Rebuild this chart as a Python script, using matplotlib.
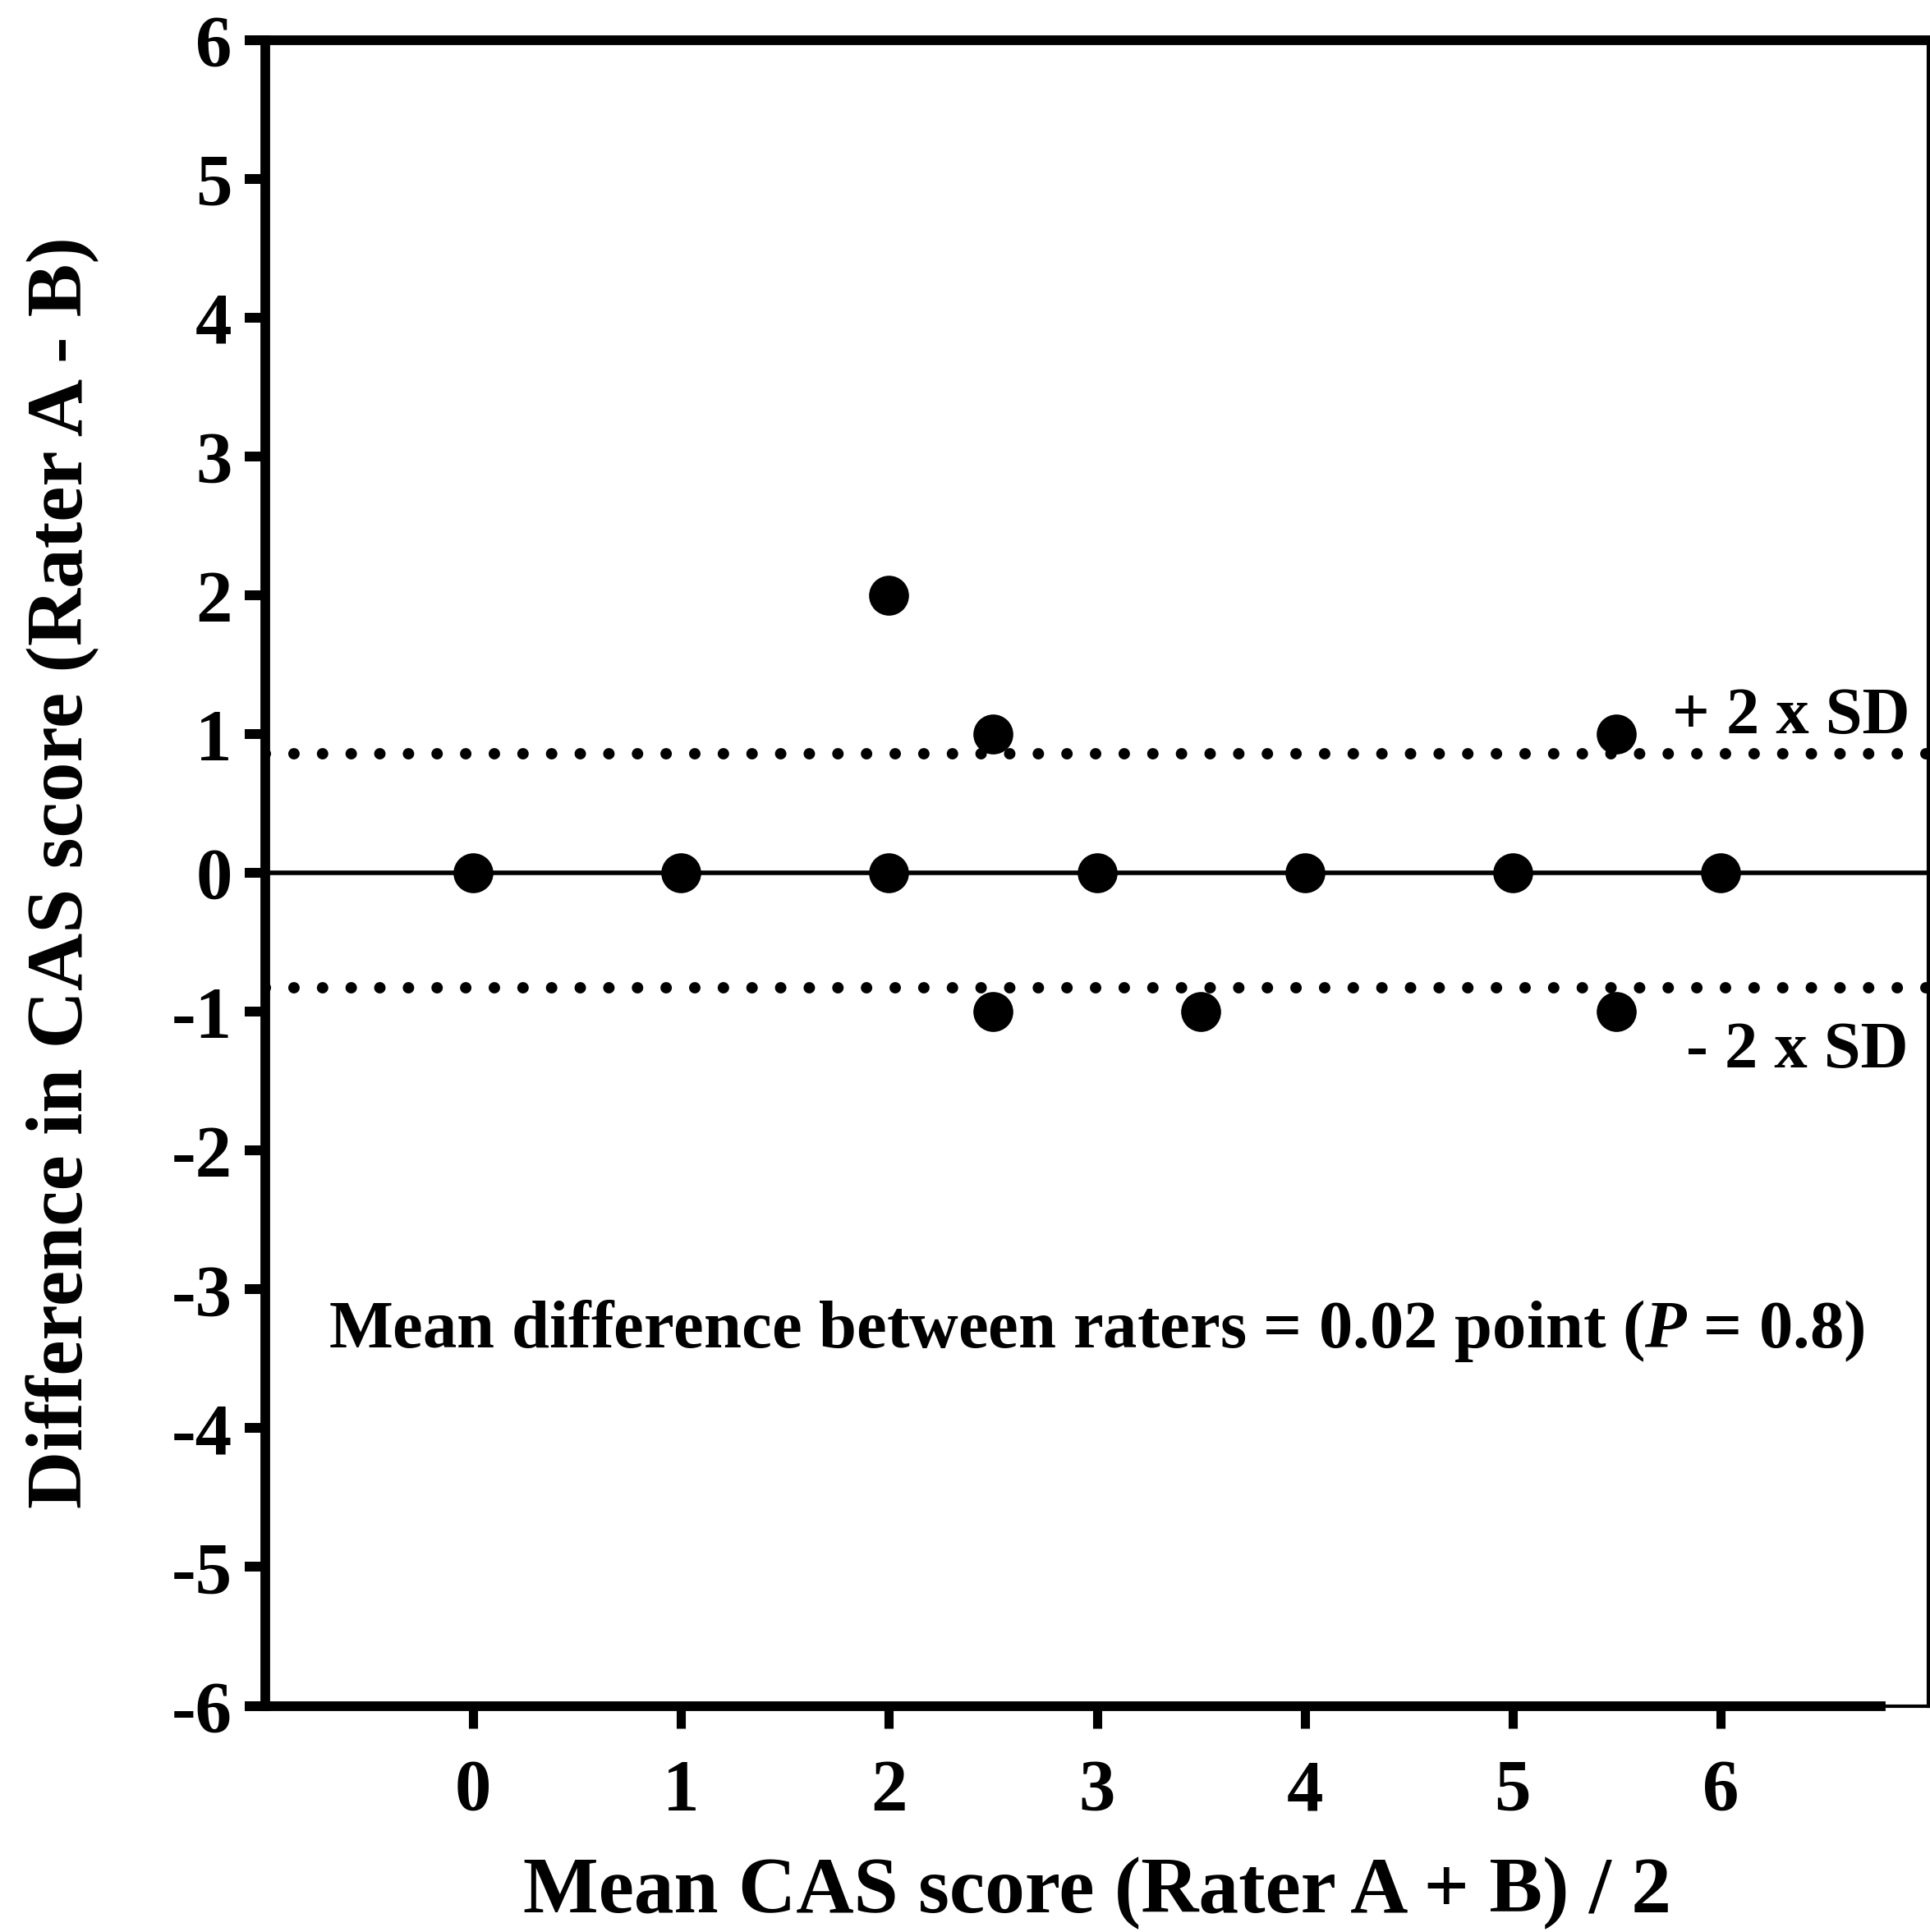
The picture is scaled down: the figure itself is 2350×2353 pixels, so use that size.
import matplotlib
matplotlib.use("Agg")
import matplotlib.pyplot as plt

# Bland-Altman data: mean score vs difference between raters
mean_score = [0, 1, 2, 2, 2.5, 2.5, 3, 3.5, 4, 5, 5.5, 5.5, 6]
diff_score = [0, 0, 0, 2, 1, -1, 0, -1, 0, 0, 1, -1, 0]
upper_sd = 0.86
lower_sd = -0.83
x_ticks = [0, 1, 2, 3, 4, 5, 6]
y_ticks = list(range(-6, 7))

plt.rcParams['font.family'] = ['Liberation Serif', 'DejaVu Serif']
plt.rcParams['font.weight'] = 'bold'
plt.rcParams['axes.unicode_minus'] = False
plt.rcParams['mathtext.fontset'] = 'custom'
plt.rcParams['mathtext.it'] = 'Liberation Serif:italic:bold'
plt.rcParams['mathtext.rm'] = 'Liberation Serif:bold'

fig = plt.figure(figsize=(23.5, 23.53), dpi=100)
ax = fig.add_axes([323 / 2350, 275.5 / 2353, 2025 / 2350, 2029 / 2353])

ax.set_xlim(-1, 7)
ax.set_ylim(-6, 6)

# reference lines
ax.axhline(0, color='black', lw=4, zorder=2)
for lvl in (upper_sd, lower_sd):
    ax.axhline(lvl, color='black', lw=10, dashes=(0.01, 2.5),
               dash_capstyle='round', zorder=2)

ax.plot(mean_score, diff_score, 'o', color='black', markersize=35,
        markeredgewidth=0, zorder=3)

# spines: thick left/top/bottom, thin frame on the right
for side in ['left', 'top', 'bottom']:
    ax.spines[side].set_linewidth(8.5)
ax.spines['right'].set_linewidth(3)
ax.spines['bottom'].set_bounds(-1, 6.77)
ax.axhline(-6, color='black', lw=3, clip_on=False, zorder=1)

ax.set_xticks(x_ticks)
ax.set_yticks(y_ticks)
ax.tick_params(axis='x', direction='out', length=19.5, width=8, pad=27,
               labelsize=64)
ax.tick_params(axis='y', direction='out', length=18, width=8.6, pad=11,
               labelsize=64)
for lab in ax.get_xticklabels() + ax.get_yticklabels():
    lab.set_fontweight('bold')

ax.set_xlabel("Mean CAS score (Rater A + B) / 2", fontsize=70,
              fontweight='bold', va='baseline')
ax.xaxis.set_label_coords(0.5, -0.124)
ax.set_ylabel("Difference in CAS score (Rater A - B)", fontsize=70,
              fontweight='bold', va='baseline')
ax.yaxis.set_label_coords(-0.110, 0.5)

ax.text(6.913, 1.005, "+ 2 x SD", fontsize=58, fontweight='bold',
        ha='right', va='baseline')
ax.text(6.905, -1.40, "- 2 x SD", fontsize=58, fontweight='bold',
        ha='right', va='baseline')
ax.text(3, -3.42, r"Mean difference between raters = 0.02 point ($\mathit{P}$ = 0.8)",
        fontsize=59.5, fontweight='bold', ha='center', va='baseline')

fig.savefig("out.png", dpi=100)
